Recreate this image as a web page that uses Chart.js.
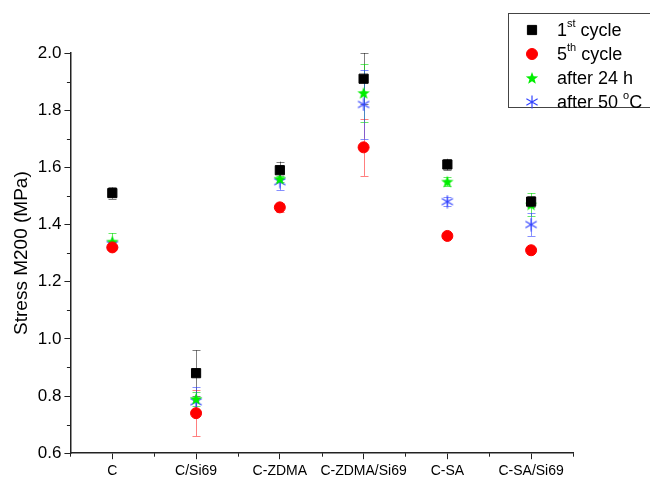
<!DOCTYPE html>
<html>
<head>
<meta charset="utf-8">
<script src="https://cdn.jsdelivr.net/npm/chart.js@4/dist/chart.umd.min.js"></script>
<style>
  html, body { margin: 0; padding: 0; background: #fff; }
  #chart { display: block; }
</style>
</head>
<body>
<canvas id="chart" width="650" height="484"></canvas>
<script>
// Chart data
const categories = ['C', 'C/Si69', 'C-ZDMA', 'C-ZDMA/Si69', 'C-SA', 'C-SA/Si69'];
const cycle1 = [1.51, 0.88, 1.59, 1.91, 1.61, 1.48];
const cycle1Err = [0.02, 0.08, 0.03, 0.09, 0.02, 0.02];
const cycle5 = [1.32, 0.74, 1.46, 1.67, 1.36, 1.31];
const cycle5Err = [0.01, 0.08, 0.015, 0.10, 0.005, 0.005];
const after24h = [1.34, 0.79, 1.56, 1.86, 1.55, 1.47];
const after24hErr = [0.03, 0.025, 0.01, 0.10, 0.015, 0.04];
const after50C = [1.33, 0.78, 1.55, 1.82, 1.48, 1.40];
const after50CErr = [0.01, 0.05, 0.03, 0.12, 0.015, 0.04];
const yTicks = [0.6, 0.8, 1.0, 1.2, 1.4, 1.6, 1.8, 2.0];

const FONT = '"Liberation Sans", Arial, sans-serif';

// filled 5 point star marker
function makeStar(color) {
  const c = document.createElement('canvas');
  c.width = 14; c.height = 14;
  const g = c.getContext('2d');
  g.fillStyle = color;
  g.beginPath();
  for (let i = 0; i < 10; i++) {
    const r = i % 2 === 0 ? 6.5 : 2.7;
    const a = -Math.PI / 2 + i * Math.PI / 5;
    const px = 7 + r * Math.cos(a), py = 7.5 + r * Math.sin(a);
    if (i === 0) g.moveTo(px, py); else g.lineTo(px, py);
  }
  g.closePath();
  g.fill();
  return c;
}

// six arm asterisk marker
function makeAsterisk(color) {
  const c = document.createElement('canvas');
  c.width = 14; c.height = 14;
  const g = c.getContext('2d');
  g.strokeStyle = color;
  g.lineWidth = 1.2;
  g.beginPath();
  for (let i = 0; i < 3; i++) {
    const a = Math.PI / 2 + i * Math.PI / 3;
    g.moveTo(7 - 6.5 * Math.cos(a), 7 - 6.5 * Math.sin(a));
    g.lineTo(7 + 6.5 * Math.cos(a), 7 + 6.5 * Math.sin(a));
  }
  g.stroke();
  return c;
}

const starImg = makeStar('#00ee00');
const asteriskImg = makeAsterisk('#3344ff');

const series = [
  { label: '1st cycle', parts: [['1', 0], ['st', 1], [' cycle', 0]], data: cycle1, err: cycle1Err,
    color: '#000000', errColor: 'rgba(0,0,0,0.5)', style: 'rect', radius: 6.5 },
  { label: '5th cycle', parts: [['5', 0], ['th', 1], [' cycle', 0]], data: cycle5, err: cycle5Err,
    color: '#ff0000', errColor: 'rgba(255,0,0,0.5)', style: 'circle', radius: 5.5 },
  { label: 'after 24 h', parts: [['after 24 h', 0]], data: after24h, err: after24hErr,
    color: '#00ee00', errColor: 'rgba(0,220,0,0.6)', style: starImg, radius: 6 },
  { label: 'after 50 oC', parts: [['after 50 ', 0], ['o', 1], ['C', 0]], data: after50C, err: after50CErr,
    color: '#3344ff', errColor: 'rgba(51,68,255,0.6)', style: asteriskImg, radius: 6 }
];

// error bars + minor ticks
const errorBars = {
  id: 'errorBars',
  beforeDatasetsDraw(chart) {
    const ctx = chart.ctx, x = chart.scales.x, y = chart.scales.y;
    ctx.save();
    ctx.lineWidth = 1;
    chart.data.datasets.forEach((ds) => {
      ctx.strokeStyle = ds.errColor;
      ds.data.forEach((v, i) => {
        const px = Math.round(x.getPixelForValue(i)) + 0.5;
        const top = y.getPixelForValue(v + ds.errors[i]);
        const bot = y.getPixelForValue(v - ds.errors[i]);
        ctx.beginPath();
        ctx.moveTo(px, top); ctx.lineTo(px, bot);
        ctx.moveTo(px - 4, Math.round(top) + 0.5); ctx.lineTo(px + 4, Math.round(top) + 0.5);
        ctx.moveTo(px - 4, Math.round(bot) + 0.5); ctx.lineTo(px + 4, Math.round(bot) + 0.5);
        ctx.stroke();
      });
    });
    ctx.restore();
  },
  afterDraw(chart) {
    const ctx = chart.ctx, x = chart.scales.x, y = chart.scales.y;
    const area = chart.chartArea;
    ctx.save();
    ctx.strokeStyle = '#222';
    ctx.lineWidth = 1;
    ctx.beginPath();
    for (let k = 0; k < yTicks.length - 1; k++) {
      const py = Math.round(y.getPixelForValue((yTicks[k] + yTicks[k + 1]) / 2)) + 0.5;
      ctx.moveTo(area.left, py); ctx.lineTo(area.left - 3.5, py);
    }
    for (let i = 0; i <= categories.length; i++) {
      const px = Math.round(x.getPixelForValue(i - 0.5)) + 0.5;
      ctx.moveTo(px, area.bottom); ctx.lineTo(px, area.bottom + 3.5);
    }
    ctx.stroke();
    ctx.restore();
  }
};

// legend box with superscripts
const boxLegend = {
  id: 'boxLegend',
  afterDraw(chart) {
    const ctx = chart.ctx;
    ctx.save();
    ctx.strokeStyle = '#444';
    ctx.lineWidth = 1;
    ctx.strokeRect(508.5, 13.5, 150, 94);
    series.forEach((s, i) => {
      const cy = 30 + i * 24;
      ctx.fillStyle = s.color;
      ctx.strokeStyle = s.color;
      Chart.helpers.drawPoint(ctx, { pointStyle: s.style, radius: s.radius, borderWidth: 1, rotation: 0 }, 532, cy);
      let tx = 557;
      ctx.fillStyle = '#000';
      ctx.textBaseline = 'middle';
      s.parts.forEach(([t, sup]) => {
        ctx.font = (sup ? '11px ' : '18px ') + FONT;
        ctx.fillText(t, tx, sup ? cy - 6 : cy + 1);
        tx += ctx.measureText(t).width;
      });
    });
    ctx.restore();
  }
};

new Chart(document.getElementById('chart'), {
  type: 'line',
  data: {
    labels: categories,
    datasets: series.map((s) => ({
      label: s.label,
      data: s.data,
      errors: s.err,
      errColor: s.errColor,
      showLine: false,
      pointStyle: s.style,
      pointRadius: s.radius,
      pointHoverRadius: s.radius,
      pointBackgroundColor: s.color,
      pointBorderColor: s.color,
      pointBorderWidth: 1,
      borderColor: s.color,
      backgroundColor: s.color
    }))
  },
  options: {
    responsive: false,
    animation: false,
    layout: { padding: { top: 53, right: 77, bottom: 0, left: 6 } },
    plugins: {
      legend: { display: false },
      tooltip: { enabled: false }
    },
    scales: {
      x: {
        offset: true,
        grid: { display: true, drawOnChartArea: false, offset: false, tickLength: 6, color: '#222', tickWidth: 1 },
        border: { display: true, color: '#222', width: 1.5 },
        ticks: { color: '#000', font: { family: FONT, size: 14 }, padding: 4, maxRotation: 0, autoSkip: false }
      },
      y: {
        min: 0.6,
        max: 2.0,
        afterBuildTicks(axis) { axis.ticks = yTicks.map((v) => ({ value: v })); },
        grid: { display: true, drawOnChartArea: false, tickLength: 6, color: '#222', tickWidth: 1 },
        border: { display: true, color: '#222', width: 1.5 },
        ticks: { color: '#000', font: { family: FONT, size: 17 }, padding: 3, callback: (v) => Number(v).toFixed(1) },
        title: { display: true, text: 'Stress M200 (MPa)', color: '#000', font: { family: FONT, size: 19 }, padding: { bottom: 2 } }
      }
    }
  },
  plugins: [errorBars, boxLegend]
});
</script>
</body>
</html>
